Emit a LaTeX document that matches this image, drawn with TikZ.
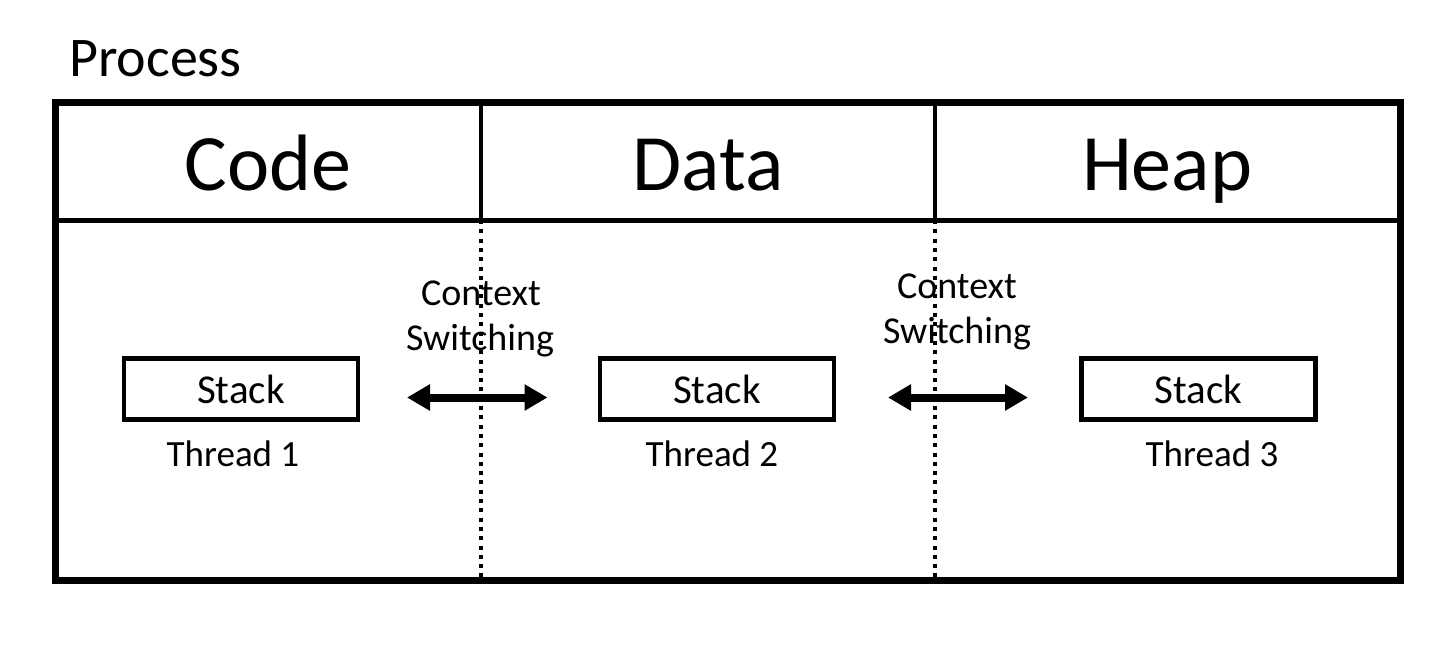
\documentclass[tikz,border=0pt]{standalone}
\usepackage{fontspec}
\setmainfont{Carlito}
\usetikzlibrary{arrows.meta}
\begin{document}
\begin{tikzpicture}[x=1pt,y=-1pt,
  frame/.style={line width=7pt},
  sep/.style={line width=5pt},
  dots/.style={line width=4pt, dash pattern=on 4pt off 5.3pt},
  stackbox/.style={draw, line width=4.5pt, minimum width=234pt, minimum height=61pt, inner sep=0pt, font=\fontsize{41}{41}\selectfont},
  lbl/.style={inner sep=0pt, anchor=base, font=\fontsize{37}{37}\selectfont},
  ctx/.style={inner sep=0pt, anchor=base, font=\fontsize{38}{38}\selectfont},
  head/.style={inner sep=0pt, anchor=base, font=\fontsize{80}{80}\selectfont},
  dbl/.style={line width=8pt, {Triangle[length=23pt,width=25pt]}-{Triangle[length=23pt,width=25pt]}}
]
\useasboundingbox (0,0) rectangle (1446,658);
% title
\node[inner sep=0pt, anchor=base west, font=\fontsize{56}{56}\selectfont] (title) at (69,77) {Process};
% frame
\coordinate (tl) at (55,103);
\coordinate (br) at (1400,580);
\draw[frame] (tl) rectangle (br);
\coordinate (hl) at (55,220);
\coordinate (hr) at (1400,220);
\draw[sep] (hl) -- (hr);
\coordinate (d1t) at (481,103);
\coordinate (d1m) at (481,220);
\coordinate (d1b) at (481,578);
\coordinate (d2t) at (935,103);
\coordinate (d2m) at (935,220);
\coordinate (d2b) at (935,578);
\draw[sep, line width=4.5pt] (d1t) -- (d1m);
\draw[sep, line width=4.5pt] (d2t) -- (d2m);
% headers
\node[head] (code) at (268,190) {Code};
\node[head] (data) at (708,190) {Data};
\node[head] (heap) at (1167,190) {Heap};
% stacks
\node[stackbox] (s1) at (241,389) {Stack};
\node[stackbox] (s2) at (717,389) {Stack};
\node[stackbox] (s3) at (1198.5,389) {Stack};
\node[lbl] (t1) at (233,466) {Thread 1};
\node[lbl] (t2) at (712,466) {Thread 2};
\node[lbl] (t3) at (1212,466) {Thread 3};
% context switching labels
\node[ctx] (c1a) at (481,305) {Context};
\node[ctx] (c1b) at (480,350) {Switching};
\node[ctx] (c2a) at (957,298) {Context};
\node[ctx] (c2b) at (957,343) {Switching};
% arrows
\coordinate (a1l) at (407,397.5);
\coordinate (a1r) at (547.5,397.5);
\coordinate (a2l) at (888,397.5);
\coordinate (a2r) at (1028,397.5);
\draw[dbl] (a1l) -- (a1r);
\draw[dbl] (a2l) -- (a2r);
% dotted dividers
\draw[dots] (d1m) -- (d1b);
\draw[dots] (d2m) -- (d2b);
\end{tikzpicture}
\end{document}
